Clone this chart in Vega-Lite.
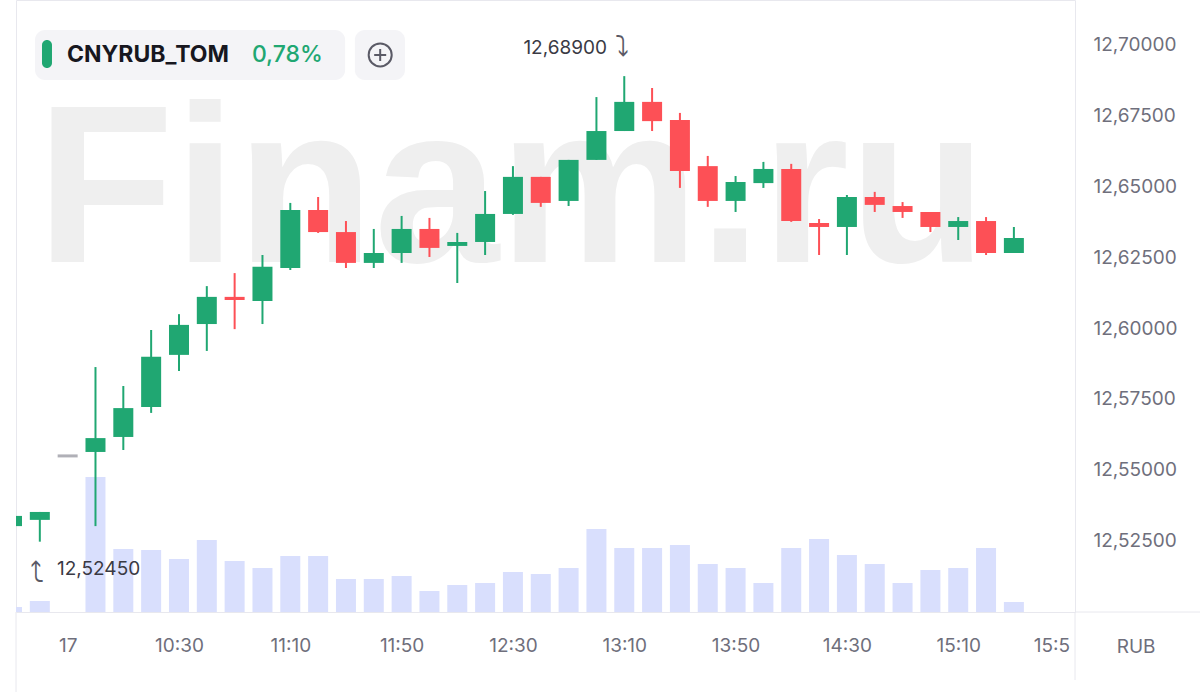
{
  "$schema": "https://vega.github.io/schema/vega-lite/v6.json",
  "width": 1059,
  "height": 612,
  "autosize": "none",
  "padding": {"left": 16, "top": 0, "right": 125, "bottom": 80},
  "background": "#ffffff",
  "config": {
    "view": {"stroke": "#e8e8ee", "strokeWidth": 1},
    "font": "Inter",
    "axis": {"grid": false, "ticks": false, "domain": false, "labelFont": "Inter", "labelFontSize": 19, "labelColor": "#6f6f7c"}
  },
  "data": {
    "values": [
      {"i": 0, "o": 12.5300, "h": 12.5336, "l": 12.5300, "c": 12.5336, "v": 5},
      {"i": 1, "o": 12.5322, "h": 12.5350, "l": 12.5245, "c": 12.5350, "v": 11},
      {"i": 2, "o": 12.5548, "h": 12.5548, "l": 12.5548, "c": 12.5548, "v": 0},
      {"i": 3, "o": 12.5562, "h": 12.5862, "l": 12.5300, "c": 12.5611, "v": 135},
      {"i": 4, "o": 12.5615, "h": 12.5795, "l": 12.5569, "c": 12.5717, "v": 63},
      {"i": 5, "o": 12.5721, "h": 12.5993, "l": 12.5700, "c": 12.5898, "v": 62},
      {"i": 6, "o": 12.5905, "h": 12.6049, "l": 12.5848, "c": 12.6011, "v": 53},
      {"i": 7, "o": 12.6014, "h": 12.6148, "l": 12.5919, "c": 12.6110, "v": 72},
      {"i": 8, "o": 12.6110, "h": 12.6194, "l": 12.5996, "c": 12.6099, "v": 51},
      {"i": 9, "o": 12.6095, "h": 12.6258, "l": 12.6014, "c": 12.6216, "v": 44},
      {"i": 10, "o": 12.6212, "h": 12.6442, "l": 12.6205, "c": 12.6417, "v": 56},
      {"i": 11, "o": 12.6417, "h": 12.6463, "l": 12.6336, "c": 12.6339, "v": 56},
      {"i": 12, "o": 12.6339, "h": 12.6378, "l": 12.6212, "c": 12.6230, "v": 33},
      {"i": 13, "o": 12.6230, "h": 12.6350, "l": 12.6212, "c": 12.6265, "v": 33},
      {"i": 14, "o": 12.6265, "h": 12.6396, "l": 12.6230, "c": 12.6350, "v": 36},
      {"i": 15, "o": 12.6350, "h": 12.6389, "l": 12.6251, "c": 12.6283, "v": 21},
      {"i": 16, "o": 12.6290, "h": 12.6336, "l": 12.6159, "c": 12.6304, "v": 27},
      {"i": 17, "o": 12.6304, "h": 12.6484, "l": 12.6258, "c": 12.6403, "v": 29},
      {"i": 18, "o": 12.6403, "h": 12.6572, "l": 12.6400, "c": 12.6534, "v": 40},
      {"i": 19, "o": 12.6534, "h": 12.6534, "l": 12.6428, "c": 12.6442, "v": 38},
      {"i": 20, "o": 12.6449, "h": 12.6594, "l": 12.6431, "c": 12.6594, "v": 44},
      {"i": 21, "o": 12.6594, "h": 12.6816, "l": 12.6594, "c": 12.6696, "v": 83},
      {"i": 22, "o": 12.6696, "h": 12.6890, "l": 12.6696, "c": 12.6799, "v": 64},
      {"i": 23, "o": 12.6799, "h": 12.6848, "l": 12.6696, "c": 12.6731, "v": 64},
      {"i": 24, "o": 12.6735, "h": 12.6760, "l": 12.6495, "c": 12.6555, "v": 67},
      {"i": 25, "o": 12.6572, "h": 12.6608, "l": 12.6428, "c": 12.6449, "v": 48},
      {"i": 26, "o": 12.6449, "h": 12.6537, "l": 12.6410, "c": 12.6516, "v": 44},
      {"i": 27, "o": 12.6512, "h": 12.6587, "l": 12.6495, "c": 12.6562, "v": 29},
      {"i": 28, "o": 12.6562, "h": 12.6580, "l": 12.6375, "c": 12.6378, "v": 64},
      {"i": 29, "o": 12.6371, "h": 12.6385, "l": 12.6258, "c": 12.6357, "v": 73},
      {"i": 30, "o": 12.6357, "h": 12.6470, "l": 12.6258, "c": 12.6463, "v": 57},
      {"i": 31, "o": 12.6463, "h": 12.6481, "l": 12.6410, "c": 12.6435, "v": 48},
      {"i": 32, "o": 12.6431, "h": 12.6445, "l": 12.6389, "c": 12.6410, "v": 29},
      {"i": 33, "o": 12.6410, "h": 12.6410, "l": 12.6339, "c": 12.6357, "v": 42},
      {"i": 34, "o": 12.6357, "h": 12.6392, "l": 12.6311, "c": 12.6378, "v": 44},
      {"i": 35, "o": 12.6378, "h": 12.6392, "l": 12.6258, "c": 12.6265, "v": 64},
      {"i": 36, "o": 12.6265, "h": 12.6357, "l": 12.6265, "c": 12.6318, "v": 10}
    ]
  },
  "resolve": {"scale": {"y": "independent"}},
  "layer": [
    {
      "mark": {"type": "bar", "orient": "vertical", "width": 20, "color": "#d9dffd", "clip": true},
      "encoding": {
        "x": {
          "field": "i", "type": "quantitative", "title": null,
          "scale": {"domain": [0.144, 38.196], "nice": false, "zero": false, "padding": 0},
          "axis": {
            "values": [2, 6, 10, 14, 18, 22, 26, 30, 34, 38],
            "labelExpr": "['17','10:30','11:10','11:50','12:30','13:10','13:50','14:30','15:10','15:5'][(datum.value - 2) / 4]",
            "labelAlign": {"condition": {"test": "datum.value == 38", "value": "right"}, "value": "center"},
            "labelPadding": 24,
            "labelBound": false,
            "labelOverlap": false,
            "labelFlush": false
          }
        },
        "y": {"field": "v", "type": "quantitative", "title": null, "scale": {"domain": [0, 612], "nice": false}, "axis": null}
      }
    },
    {
      "layer": [
        {
          "data": {"values": [{}]},
          "mark": {"type": "text", "text": "Finam.ru", "font": "Liberation Sans", "fontWeight": "bold", "fontSize": 225, "color": "#efefef", "align": "center", "baseline": "alphabetic"},
          "encoding": {"x": {"datum": 17.95, "type": "quantitative"}, "y": {"datum": 12.6233, "type": "quantitative"}}
        },
        {
          "mark": {"type": "rule", "strokeWidth": 2, "clip": true},
          "encoding": {
            "x": {"field": "i", "type": "quantitative", "title": null},
            "y": {"field": "l", "type": "quantitative", "title": null},
            "y2": {"field": "h"},
            "color": {"condition": {"test": "datum.c > datum.o", "value": "#20a772"}, "value": "#fd5056"}
          }
        },
        {
          "transform": [{"filter": "datum.o != datum.c"}],
          "mark": {"type": "bar", "orient": "vertical", "width": 20, "clip": true},
          "encoding": {
            "x": {"field": "i", "type": "quantitative", "title": null},
            "y": {
              "field": "o", "type": "quantitative", "title": null,
              "scale": {"domain": [12.49965, 12.7159], "nice": false, "zero": false},
              "axis": {
                "orient": "right",
                "values": [12.525, 12.55, 12.575, 12.6, 12.625, 12.65, 12.675, 12.7],
                "labelExpr": "replace(format(datum.value, '.5f'), '.', ',')",
                "labelAlign": "left",
                "labelBaseline": "middle",
                "labelPadding": 18
              }
            },
            "y2": {"field": "c"},
            "color": {"condition": {"test": "datum.c > datum.o", "value": "#20a772"}, "value": "#fd5056"}
          }
        },
        {
          "transform": [{"filter": "datum.o == datum.c"}],
          "mark": {"type": "tick", "orient": "horizontal", "thickness": 3, "size": 20, "color": "#8e8e99"},
          "encoding": {
            "x": {"field": "i", "type": "quantitative", "title": null},
            "y": {"field": "c", "type": "quantitative", "title": null}
          }
        },
        {
          "data": {"values": [{}]},
          "mark": {"type": "rule", "color": "#e8e8ee", "strokeWidth": 1},
          "encoding": {
            "x": {"datum": 38.196, "type": "quantitative"},
            "y": {"datum": 12.49965, "type": "quantitative"}, "y2": {"datum": 12.47562}
          }
        },
        {
          "data": {"values": [{}]},
          "mark": {"type": "rule", "color": "#e8e8ee", "strokeWidth": 1},
          "encoding": {
            "x": {"datum": 0.144, "type": "quantitative"},
            "y": {"datum": 12.49965, "type": "quantitative"}, "y2": {"datum": 12.47138}
          }
        },
        {
          "data": {"values": [{}]},
          "mark": {"type": "rule", "color": "#e8e8ee", "strokeWidth": 1},
          "encoding": {
            "x": {"datum": 38.196, "type": "quantitative"}, "x2": {"datum": 42.69},
            "y": {"datum": 12.49965, "type": "quantitative"}
          }
        },
        {
          "data": {"values": [{}]},
          "mark": {"type": "rect", "cornerRadius": 10, "color": "#f4f4f7"},
          "encoding": {
            "x": {"datum": 0.826, "type": "quantitative"}, "x2": {"datum": 11.97},
            "y": {"datum": 12.7053, "type": "quantitative"}, "y2": {"datum": 12.68763}
          }
        },
        {
          "data": {"values": [{}]},
          "mark": {"type": "rect", "cornerRadius": 10, "color": "#f4f4f7"},
          "encoding": {
            "x": {"datum": 12.32, "type": "quantitative"}, "x2": {"datum": 14.12},
            "y": {"datum": 12.7053, "type": "quantitative"}, "y2": {"datum": 12.68763}
          }
        },
        {
          "data": {"values": [{}]},
          "mark": {"type": "rect", "cornerRadius": 5, "color": "#20a772"},
          "encoding": {
            "x": {"datum": 1.078, "type": "quantitative"}, "x2": {"datum": 1.437},
            "y": {"datum": 12.70177, "type": "quantitative"}, "y2": {"datum": 12.69187}
          }
        },
        {
          "data": {"values": [{}]},
          "mark": {"type": "text", "text": "CNYRUB_TOM", "fontSize": 23, "fontWeight": "bold", "color": "#17171f", "align": "left", "baseline": "middle"},
          "encoding": {"x": {"datum": 1.976, "type": "quantitative"}, "y": {"datum": 12.6965, "type": "quantitative"}}
        },
        {
          "data": {"values": [{}]},
          "mark": {"type": "text", "text": "0,78%", "fontSize": 23, "fontWeight": 500, "color": "#20a772", "align": "left", "baseline": "middle"},
          "encoding": {"x": {"datum": 8.62, "type": "quantitative"}, "y": {"datum": 12.6965, "type": "quantitative"}}
        },
        {
          "data": {"values": [{}]},
          "mark": {"type": "point", "shape": "circle", "size": 531, "filled": false, "stroke": "#5a5a66", "strokeWidth": 2, "opacity": 1},
          "encoding": {"x": {"datum": 13.23, "type": "quantitative"}, "y": {"datum": 12.6965, "type": "quantitative"}}
        },
        {
          "data": {"values": [{}]},
          "mark": {"type": "point", "shape": "M-1,0H1M0,-1V1", "size": 144, "filled": false, "stroke": "#5a5a66", "strokeWidth": 2, "opacity": 1},
          "encoding": {"x": {"datum": 13.23, "type": "quantitative"}, "y": {"datum": 12.6965, "type": "quantitative"}}
        },
        {
          "data": {"values": [{}]},
          "mark": {"type": "text", "text": "12,68900", "fontSize": 19, "color": "#3a3a44", "align": "right", "baseline": "middle"},
          "encoding": {"x": {"datum": 21.38, "type": "quantitative"}, "y": {"datum": 12.69894, "type": "quantitative"}}
        },
        {
          "data": {"values": [{}]},
          "mark": {"type": "text", "text": "⤵", "font": "DejaVu Sans", "fontSize": 28, "color": "#5a5a66", "align": "center", "baseline": "middle"},
          "encoding": {"x": {"datum": 21.92, "type": "quantitative"}, "y": {"datum": 12.69894, "type": "quantitative"}}
        },
        {
          "data": {"values": [{}]},
          "mark": {"type": "text", "text": "⤵", "font": "DejaVu Sans", "fontSize": 28, "angle": 180, "color": "#5a5a66", "align": "center", "baseline": "middle"},
          "encoding": {"x": {"datum": 0.898, "type": "quantitative"}, "y": {"datum": 12.51484, "type": "quantitative"}}
        },
        {
          "data": {"values": [{}]},
          "mark": {"type": "text", "text": "12,52450", "fontSize": 19, "color": "#3a3a44", "align": "left", "baseline": "middle"},
          "encoding": {"x": {"datum": 1.617, "type": "quantitative"}, "y": {"datum": 12.51484, "type": "quantitative"}}
        },
        {
          "data": {"values": [{}]},
          "mark": {"type": "text", "text": "RUB", "fontSize": 19, "color": "#6f6f7c", "align": "center", "baseline": "middle"},
          "encoding": {"x": {"datum": 40.39, "type": "quantitative"}, "y": {"datum": 12.48728, "type": "quantitative"}}
        }
      ]
    }
  ]
}
